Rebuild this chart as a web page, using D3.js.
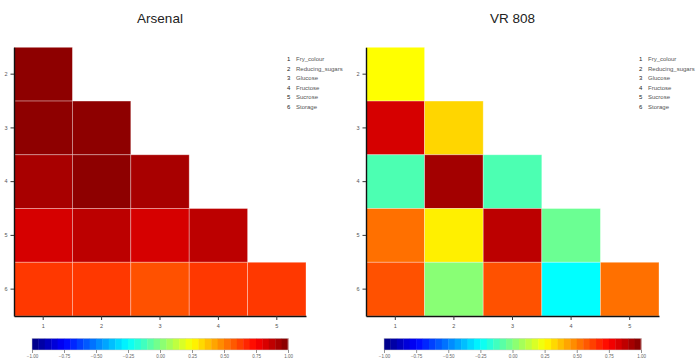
<!DOCTYPE html>
<html>
<head>
<meta charset="utf-8">
<script src="https://cdn.jsdelivr.net/npm/d3@7"></script>
<style>
  html, body { margin: 0; padding: 0; background: #fff; }
  svg { display: block; font-family: "Liberation Sans", Arial, Helvetica, sans-serif; }
</style>
</head>
<body>
<svg id="chart" width="699" height="361"></svg>
<script>
// Trait names (numbered in the legend and on the axes)
const traits = ["Fry_colour", "Reducing_sugars", "Glucose", "Fructose", "Sucrose", "Storage"];
const colIds = [1, 2, 3, 4, 5];
const rowIds = [2, 3, 4, 5, 6];

// Lower-triangle correlations, one row per trait 2..6, columns trait 1..(row-1)
const arsenal = [
  [0.97],
  [0.97, 0.97],
  [0.92, 0.97, 0.92],
  [0.83, 0.88, 0.83, 0.88],
  [0.64, 0.64, 0.59, 0.64, 0.64]
];
const vr808 = [
  [0.25],
  [0.83, 0.33],
  [-0.10, 0.93, -0.10],
  [0.53, 0.28, 0.88, -0.04],
  [0.59, 0.02, 0.59, -0.25, 0.53]
];

const panels = [
  { title: "Arsenal", values: arsenal, x0: 14, x1: 306, legendX: 287, barX0: 32, barX1: 288 },
  { title: "VR 808", values: vr808, x0: 366, x1: 659, legendX: 639, barX0: 384, barX1: 641 }
];

const scaleTicks = [-1, -0.75, -0.5, -0.25, 0, 0.25, 0.5, 0.75, 1];
const jet = ["#00007F", "#0000FF", "#007FFF", "#00FFFF", "#7FFF7F", "#FFFF00", "#FF7F00", "#FF0000", "#7F0000"];
const color = d3.scaleLinear().domain(scaleTicks).range(jet).interpolate(d3.interpolateRgb);

const svg = d3.select("#chart");
const plotTop = 47.3, plotBottom = 316;

panels.forEach(p => {
  const g = svg.append("g");
  const x = d3.scaleBand().domain(colIds).range([p.x0, p.x1]).padding(0);
  const y = d3.scaleBand().domain(rowIds).range([plotTop, plotBottom]).padding(0);

  // title
  g.append("text")
    .attr("x", (p.x0 + p.x1) / 2).attr("y", 22.5)
    .attr("text-anchor", "middle")
    .attr("font-size", 13.5).attr("fill", "#222")
    .text(p.title);

  // cells
  const cells = [];
  p.values.forEach((row, i) => row.forEach((v, j) => cells.push({ r: rowIds[i], c: colIds[j], v })));
  g.selectAll("rect.cell").data(cells).join("rect")
    .attr("class", "cell")
    .attr("x", d => x(d.c)).attr("y", d => y(d.r))
    .attr("width", x.bandwidth()).attr("height", y.bandwidth())
    .attr("fill", d => color(d.v))
    .attr("stroke", "rgba(255,255,255,0.4)").attr("stroke-width", 0.8);

  // axes
  const xAxis = g.append("g").attr("transform", `translate(0,${plotBottom})`)
    .call(d3.axisBottom(x).tickSize(4).tickSizeOuter(0).tickPadding(4));
  const yAxis = g.append("g").attr("transform", `translate(${p.x0},0)`)
    .call(d3.axisLeft(y).tickSize(3.5).tickSizeOuter(0).tickPadding(3));
  [xAxis, yAxis].forEach(a => {
    a.select(".domain").attr("stroke", "#111").attr("stroke-width", 1.4);
    a.selectAll(".tick line").attr("stroke", "#333").attr("stroke-width", 1);
    a.selectAll(".tick text").attr("font-size", 5.5).attr("fill", "#555").attr("font-family", null);
  });

  // legend
  const leg = g.append("g").attr("font-size", 6);
  traits.forEach((t, i) => {
    const ly = 61 + i * 9.5;
    leg.append("text").attr("x", p.legendX).attr("y", ly).attr("fill", "#222").text(i + 1);
    leg.append("text").attr("x", p.legendX + 9).attr("y", ly).attr("fill", "#555").text(t);
  });

  // colour bar: 40 discrete steps across [-1, 1]
  const nSteps = 40;
  const stepSize = 2 / nSteps;
  const bx = d3.scaleLinear().domain([-1, 1]).range([p.barX0, p.barX1]);
  const steps = d3.range(nSteps).map(i => -1 + (i + 0.5) * stepSize);
  g.selectAll("rect.step").data(steps).join("rect")
    .attr("class", "step")
    .attr("x", d => bx(d - stepSize / 2)).attr("y", 338.3)
    .attr("width", bx(stepSize) - bx(0) + 0.4).attr("height", 11.7)
    .attr("fill", d => color(d));
  g.append("rect").attr("x", p.barX0).attr("y", 338.3)
    .attr("width", p.barX1 - p.barX0).attr("height", 11.7)
    .attr("fill", "none").attr("stroke", "#ccc").attr("stroke-width", 0.5);
  const barAxis = g.append("g").attr("transform", "translate(0,350)")
    .call(d3.axisBottom(bx).tickValues(scaleTicks).tickFormat(d3.format(".2f")).tickSize(3).tickSizeOuter(0).tickPadding(2));
  barAxis.select(".domain").remove();
  barAxis.selectAll(".tick line").attr("stroke", "#666").attr("stroke-width", 0.7);
  barAxis.selectAll(".tick text").attr("font-size", 4.5).attr("fill", "#666").attr("font-family", null);
});
</script>
</body>
</html>
